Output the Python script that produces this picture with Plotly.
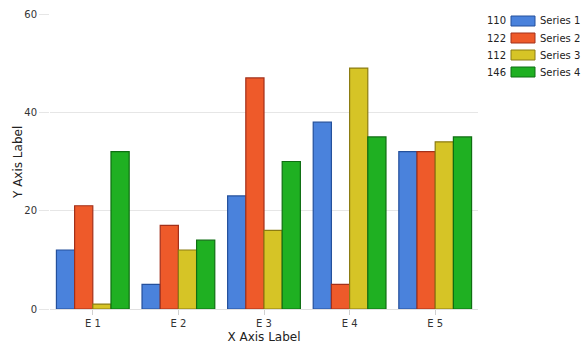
import plotly.graph_objects as go

categories = ["E 1", "E 2", "E 3", "E 4", "E 5"]
series_names = ["Series 1", "Series 2", "Series 3", "Series 4"]
s1 = [12, 5, 23, 38, 32]
s2 = [21, 17, 47, 5, 32]
s3 = [1, 12, 16, 49, 34]
s4 = [32, 14, 30, 35, 35]
series_values = [s1, s2, s3, s4]

fills = ["#4a82dc", "#ee5a2a", "#d6c426", "#1fb022"]
lines = ["#24509c", "#a3301a", "#8c7c12", "#0f6e12"]

W, H = 584, 350
ml, mr, mt, mb = 50, 106, 14, 41

fig = go.Figure()
for name, vals, fc, lc in zip(series_names, series_values, fills, lines):
    fig.add_trace(go.Bar(
        x=categories, y=vals, name=name,
        marker=dict(color=fc, line=dict(color=lc, width=1.2)),
        showlegend=False,
    ))

font = dict(family="DejaVu Sans", size=10, color="#333333")
pw = W - ml - mr
ph = H - mt - mb

def px_x(x):
    return (x - ml) / pw

def px_y(y):
    return (H - mb - y) / ph

# manual legend: total, swatch, name
row0 = 21
step = 17
for i, (name, vals, fc, lc) in enumerate(zip(series_names, series_values, fills, lines)):
    yc = row0 + i * step
    fig.add_shape(type="rect", xref="paper", yref="paper",
                  x0=px_x(511), x1=px_x(535), y0=px_y(yc + 5), y1=px_y(yc - 5),
                  fillcolor=fc, line=dict(color=lc, width=1))
    fig.add_annotation(text=str(sum(vals)), xref="paper", yref="paper",
                       x=px_x(508), y=px_y(yc), xanchor="right", yanchor="middle",
                       showarrow=False, font=dict(family="DejaVu Sans", size=10, color="#222222"))
    fig.add_annotation(text=name, xref="paper", yref="paper",
                       x=px_x(538), y=px_y(yc), xanchor="left", yanchor="middle",
                       showarrow=False, font=dict(family="DejaVu Sans", size=10, color="#222222"))

# y axis title
fig.add_annotation(text="Y Axis Label", xref="paper", yref="paper",
                   x=px_x(18), y=px_y(163), xanchor="center", yanchor="middle",
                   textangle=-90, showarrow=False,
                   font=dict(family="DejaVu Sans", size=12, color="#222222"))

fig.update_layout(
    width=W, height=H,
    margin=dict(l=ml, r=mr, t=mt, b=mb, pad=0),
    paper_bgcolor="white", plot_bgcolor="white",
    barmode="group", bargap=0.15, bargroupgap=0,
    font=font,
    xaxis=dict(
        title=dict(text="X Axis Label", font=dict(family="DejaVu Sans", size=12, color="#222222"), standoff=4),
        automargin=False,
        showgrid=False, showline=True, linecolor="#e0e0e0", linewidth=1,
        ticks="outside", ticklen=5, tickcolor="#d0d0d0",
        tickfont=dict(family="DejaVu Sans", size=10, color="#333333"),
    ),
    yaxis=dict(
        automargin=False,
        range=[0, 60], dtick=20, showgrid=True, gridcolor="#e6e6e6", gridwidth=1,
        zeroline=False, showline=False,
        ticks="outside", ticklen=10, tickcolor="#e6e6e6",
        tickfont=dict(family="DejaVu Sans", size=10, color="#333333"),
    ),
)

fig.write_html("out.html")
